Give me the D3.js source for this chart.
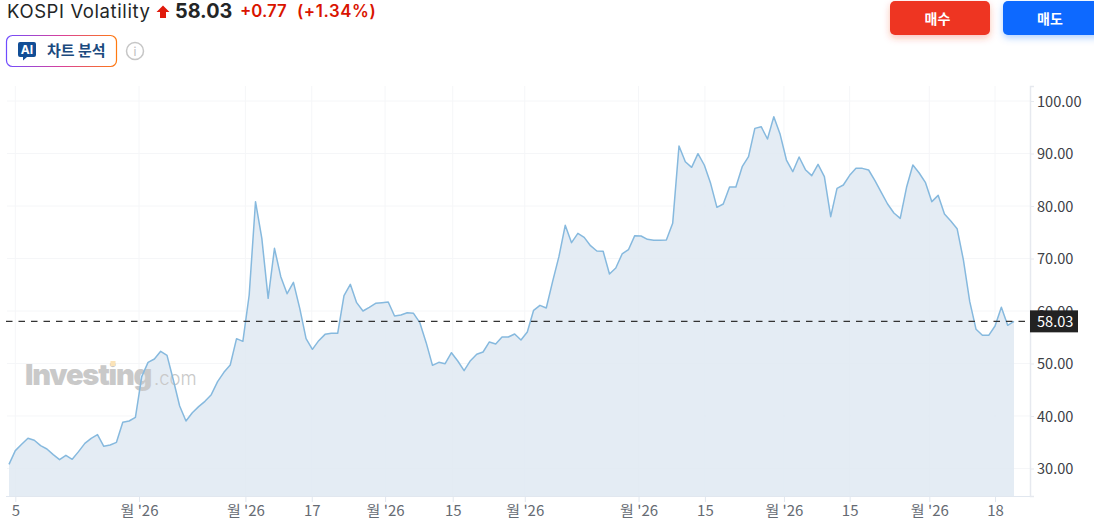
<!DOCTYPE html>
<html>
<head>
<meta charset="utf-8">
<script src="https://cdn.jsdelivr.net/npm/d3@7"></script>
<style>
  html, body { margin: 0; padding: 0; background: #fff; overflow: hidden; }
  text { font-family: "Noto Sans CJK KR", "Noto Sans", sans-serif; }
  .head { font-family: Inter, "Noto Sans CJK KR", sans-serif; }
</style>
</head>
<body>
<svg id="chart" width="1094" height="529"></svg>
<script>
const values = [
  30.79, 33.4, 34.6, 35.75, 35.37, 34.35, 33.71, 32.64, 31.68, 32.51,
  31.75, 33.21, 34.79, 35.75, 36.45, 34.22, 34.48, 34.98, 38.79, 39.05,
  39.75, 47.49, 50.22, 50.86, 52.32, 51.55, 46.86, 41.9, 39.05, 40.63,
  41.78, 42.79, 44.06, 46.54, 48.32, 49.71, 54.73, 54.22, 63.05, 80.82,
  73.84, 62.41, 71.94, 66.54, 63.3, 65.46, 60.51, 54.73, 52.7, 54.35,
  55.55, 55.75, 55.75, 62.92, 65.08, 61.59, 60.0, 60.7, 61.46, 61.59,
  61.71, 59.05, 59.24, 59.68, 59.56, 57.78, 53.97, 49.65, 50.22, 49.97,
  52.06, 50.48, 48.64, 50.54, 51.75, 52.19, 54.1, 53.71, 55.05, 55.05,
  55.62, 54.48, 56.0, 60.13, 61.08, 60.57, 65.59, 70.35, 76.32, 73.02,
  74.79, 74.03, 72.44, 71.43, 71.37, 67.05, 68.19, 70.86, 71.68, 74.35,
  74.29, 73.65, 73.46, 73.46, 73.52, 76.7, 91.43, 88.44, 87.37, 89.97,
  87.81, 84.32, 79.75, 80.38, 83.62, 83.62, 87.49, 89.4, 94.79, 95.11,
  92.76, 97.02, 93.65, 88.76, 86.54, 89.33, 86.92, 85.78, 87.94, 85.59,
  77.97, 83.37, 84.0, 85.84, 87.17, 87.17, 86.86, 84.83, 82.6, 80.38,
  78.67, 77.65, 83.56, 87.81, 86.29, 84.44, 80.83, 82.03, 78.48, 77.14,
  75.68, 69.71, 61.78, 56.51, 55.37, 55.37, 57.14, 60.7, 57.27, 58.03
];
const lastPrice = 58.03;
const yTicks = [30, 40, 50, 60, 70, 80, 90, 100];
const xTickPos = [1, 20.57, 37.4, 47.9, 59.5, 70.2, 81.6, 99.6, 110.1, 122.6, 133, 145.6, 156];
const xTickLabels = ["5", "월 '26", "월 '26", "17", "월 '26", "15", "월 '26", "월 '26", "15", "월 '26", "15", "월 '26", "18"];

const svg = d3.select("#chart");
const defs = svg.append("defs");

const grad = defs.append("linearGradient").attr("id", "aiBorder");
grad.append("stop").attr("offset", "0%").attr("stop-color", "#6f4cff");
grad.append("stop").attr("offset", "50%").attr("stop-color", "#d9409a");
grad.append("stop").attr("offset", "100%").attr("stop-color", "#ff7a10");

const shadow = (id, col) => {
  const f = defs.append("filter").attr("id", id).attr("x", "-20%").attr("y", "-40%").attr("width", "140%").attr("height", "200%");
  f.append("feDropShadow").attr("dx", 0).attr("dy", 3).attr("stdDeviation", 3.5)
    .attr("flood-color", col).attr("flood-opacity", 0.3);
};
shadow("redShadow", "#ee3524");
shadow("blueShadow", "#0a69ff");

const x = d3.scaleLinear().domain([0, values.length - 1]).range([9, 1014]);
const y = d3.scaleLinear().domain([24.76, 102.86]).range([496, 86]);

// grid
const plot = svg.append("g");
plot.selectAll(".gy").data(yTicks).enter().append("line")
  .attr("x1", 7).attr("x2", 1030).attr("y1", (d) => y(d)).attr("y2", (d) => y(d))
  .attr("stroke", "#f5f6f8");
plot.selectAll(".gx").data(xTickPos).enter().append("line")
  .attr("x1", (d) => x(d)).attr("x2", (d) => x(d)).attr("y1", 86).attr("y2", 496)
  .attr("stroke", "#f5f6f8");

// area
const area = d3.area().x((d, i) => x(i)).y0(y.range()[0]).y1((d) => y(d));
const line = d3.line().x((d, i) => x(i)).y((d) => y(d));
svg.append("path").datum(values).attr("d", area).attr("fill", "#dfe9f2").attr("fill-opacity", 0.85);

// watermark
const mark = svg.append("g");
mark.append("text").attr("x", 25).attr("y", 385)
  .style("font-family", "Inter, sans-serif")
  .attr("font-size", 29).attr("font-weight", 900).attr("fill", "#c9c9c9").attr("letter-spacing", -1.2)
  .text("Investing");
mark.append("text").attr("x", 154).attr("y", 385)
  .style("font-family", "Inter, sans-serif")
  .attr("font-size", 18.5).attr("font-weight", 300).attr("fill", "#c9c9c9").text(".com");
mark.append("rect").attr("x", 110.5).attr("y", 361).attr("width", 5).attr("height", 5).attr("fill", "#fbe3b8");

// line
svg.append("path").datum(values).attr("d", line).attr("fill", "none")
  .attr("stroke", "#86b9de").attr("stroke-width", 1.5).attr("stroke-linejoin", "round");

// axes
const axisY = svg.append("g").attr("transform", "translate(1030,0)")
  .call(d3.axisRight(y).tickValues(yTicks).tickFormat((d) => d.toFixed(2)).tickSize(4).tickPadding(3));
axisY.select(".domain").attr("stroke", "#e6e9ef").attr("stroke-width", 1.5);
axisY.selectAll(".tick line").attr("stroke", "#e6e9ef");
axisY.selectAll("text").attr("font-size", 14.6).attr("fill", "#3d4046").attr("y", 0.7)
  .style("font-family", '"Noto Sans CJK KR", sans-serif');

const axisX = svg.append("g").attr("transform", "translate(0,496)")
  .call(d3.axisBottom(x).tickValues(xTickPos).tickFormat((d, i) => xTickLabels[i]).tickSize(6).tickPadding(3));
axisX.select(".domain").attr("d", "M6,0.5H1030").attr("stroke", "#e1e7ef");
axisX.selectAll(".tick line").attr("stroke", "#e1e7ef");
axisX.selectAll("text").attr("font-size", 15).attr("fill", "#666b73")
  .style("font-family", '"Noto Sans CJK KR", sans-serif');

// last price
svg.append("line").attr("x1", 6).attr("x2", 1030).attr("y1", y(lastPrice)).attr("y2", y(lastPrice))
  .attr("stroke", "#333").attr("stroke-width", 1.2).attr("stroke-dasharray", "6.5,6");
svg.append("rect").attr("x", 1030).attr("y", y(lastPrice) - 11).attr("width", 48).attr("height", 22).attr("fill", "#222");
svg.append("text").attr("x", 1037).attr("y", y(lastPrice) + 6).attr("font-size", 14.6).attr("fill", "#fff").text(lastPrice.toFixed(2));

// header
const head = svg.append("g");
head.append("text").attr("class", "head").attr("x", 7).attr("y", 17.5).attr("font-size", 18.5).attr("letter-spacing", 0.6).attr("fill", "#232526").text("KOSPI Volatility");
head.append("path").attr("d", "M163,5.5L169.5,12H166V18H160V12H156.5Z").attr("fill", "#e01a0c");
head.append("text").attr("class", "head").attr("x", 175).attr("y", 18).attr("font-size", 19.8).attr("font-weight", 700).attr("fill", "#232526").text(lastPrice.toFixed(2));
head.append("text").attr("class", "head").attr("x", 240).attr("y", 17).attr("font-size", 16.8).attr("font-weight", 600).attr("fill", "#d91400").text("+0.77");
head.append("text").attr("class", "head").attr("x", 297).attr("y", 17).attr("font-size", 16.8).attr("font-weight", 600).attr("letter-spacing", 0.6).attr("fill", "#d91400").text("(+1.34%)");

// AI button
head.append("rect").attr("x", 6.5).attr("y", 35.5).attr("width", 110).attr("height", 31).attr("rx", 6)
  .attr("fill", "#fff").attr("stroke", "url(#aiBorder)").attr("stroke-width", 1.2);
head.append("path").attr("d", "M20,42H34Q36,42 36,44V55Q36,57 34,57H27L23,60.5V57H20Q18,57 18,55V44Q18,42 20,42Z").attr("fill", "#124e96");
head.append("text").attr("class", "head").attr("x", 27).attr("y", 54).attr("text-anchor", "middle")
  .attr("font-size", 12).attr("font-weight", 700).attr("fill", "#fff").text("AI");
head.append("text").attr("x", 47).attr("y", 56).attr("font-size", 15).attr("font-weight", 700).attr("fill", "#1b4a7e").text("차트 분석");
head.append("circle").attr("cx", 135).attr("cy", 51).attr("r", 8.5).attr("fill", "none").attr("stroke", "#c6c6c6").attr("stroke-width", 1.5);
head.append("text").attr("class", "head").attr("x", 135).attr("y", 55.5).attr("text-anchor", "middle")
  .attr("font-size", 12).attr("fill", "#bdbdbd").text("i");

// buy and sell
const btns = svg.append("g");
btns.append("rect").attr("x", 890).attr("y", 1).attr("width", 100).attr("height", 34).attr("rx", 5)
  .attr("fill", "#ee3524").attr("filter", "url(#redShadow)");
btns.append("rect").attr("x", 1003).attr("y", 1).attr("width", 100).attr("height", 34).attr("rx", 5)
  .attr("fill", "#0a69ff").attr("filter", "url(#blueShadow)");
btns.append("text").attr("x", 937.5).attr("y", 23.5).attr("text-anchor", "middle").attr("font-size", 14).attr("font-weight", 700).attr("fill", "#fff").text("매수");
btns.append("text").attr("x", 1050).attr("y", 23.5).attr("text-anchor", "middle").attr("font-size", 14).attr("font-weight", 700).attr("fill", "#fff").text("매도");
</script>
</body>
</html>
